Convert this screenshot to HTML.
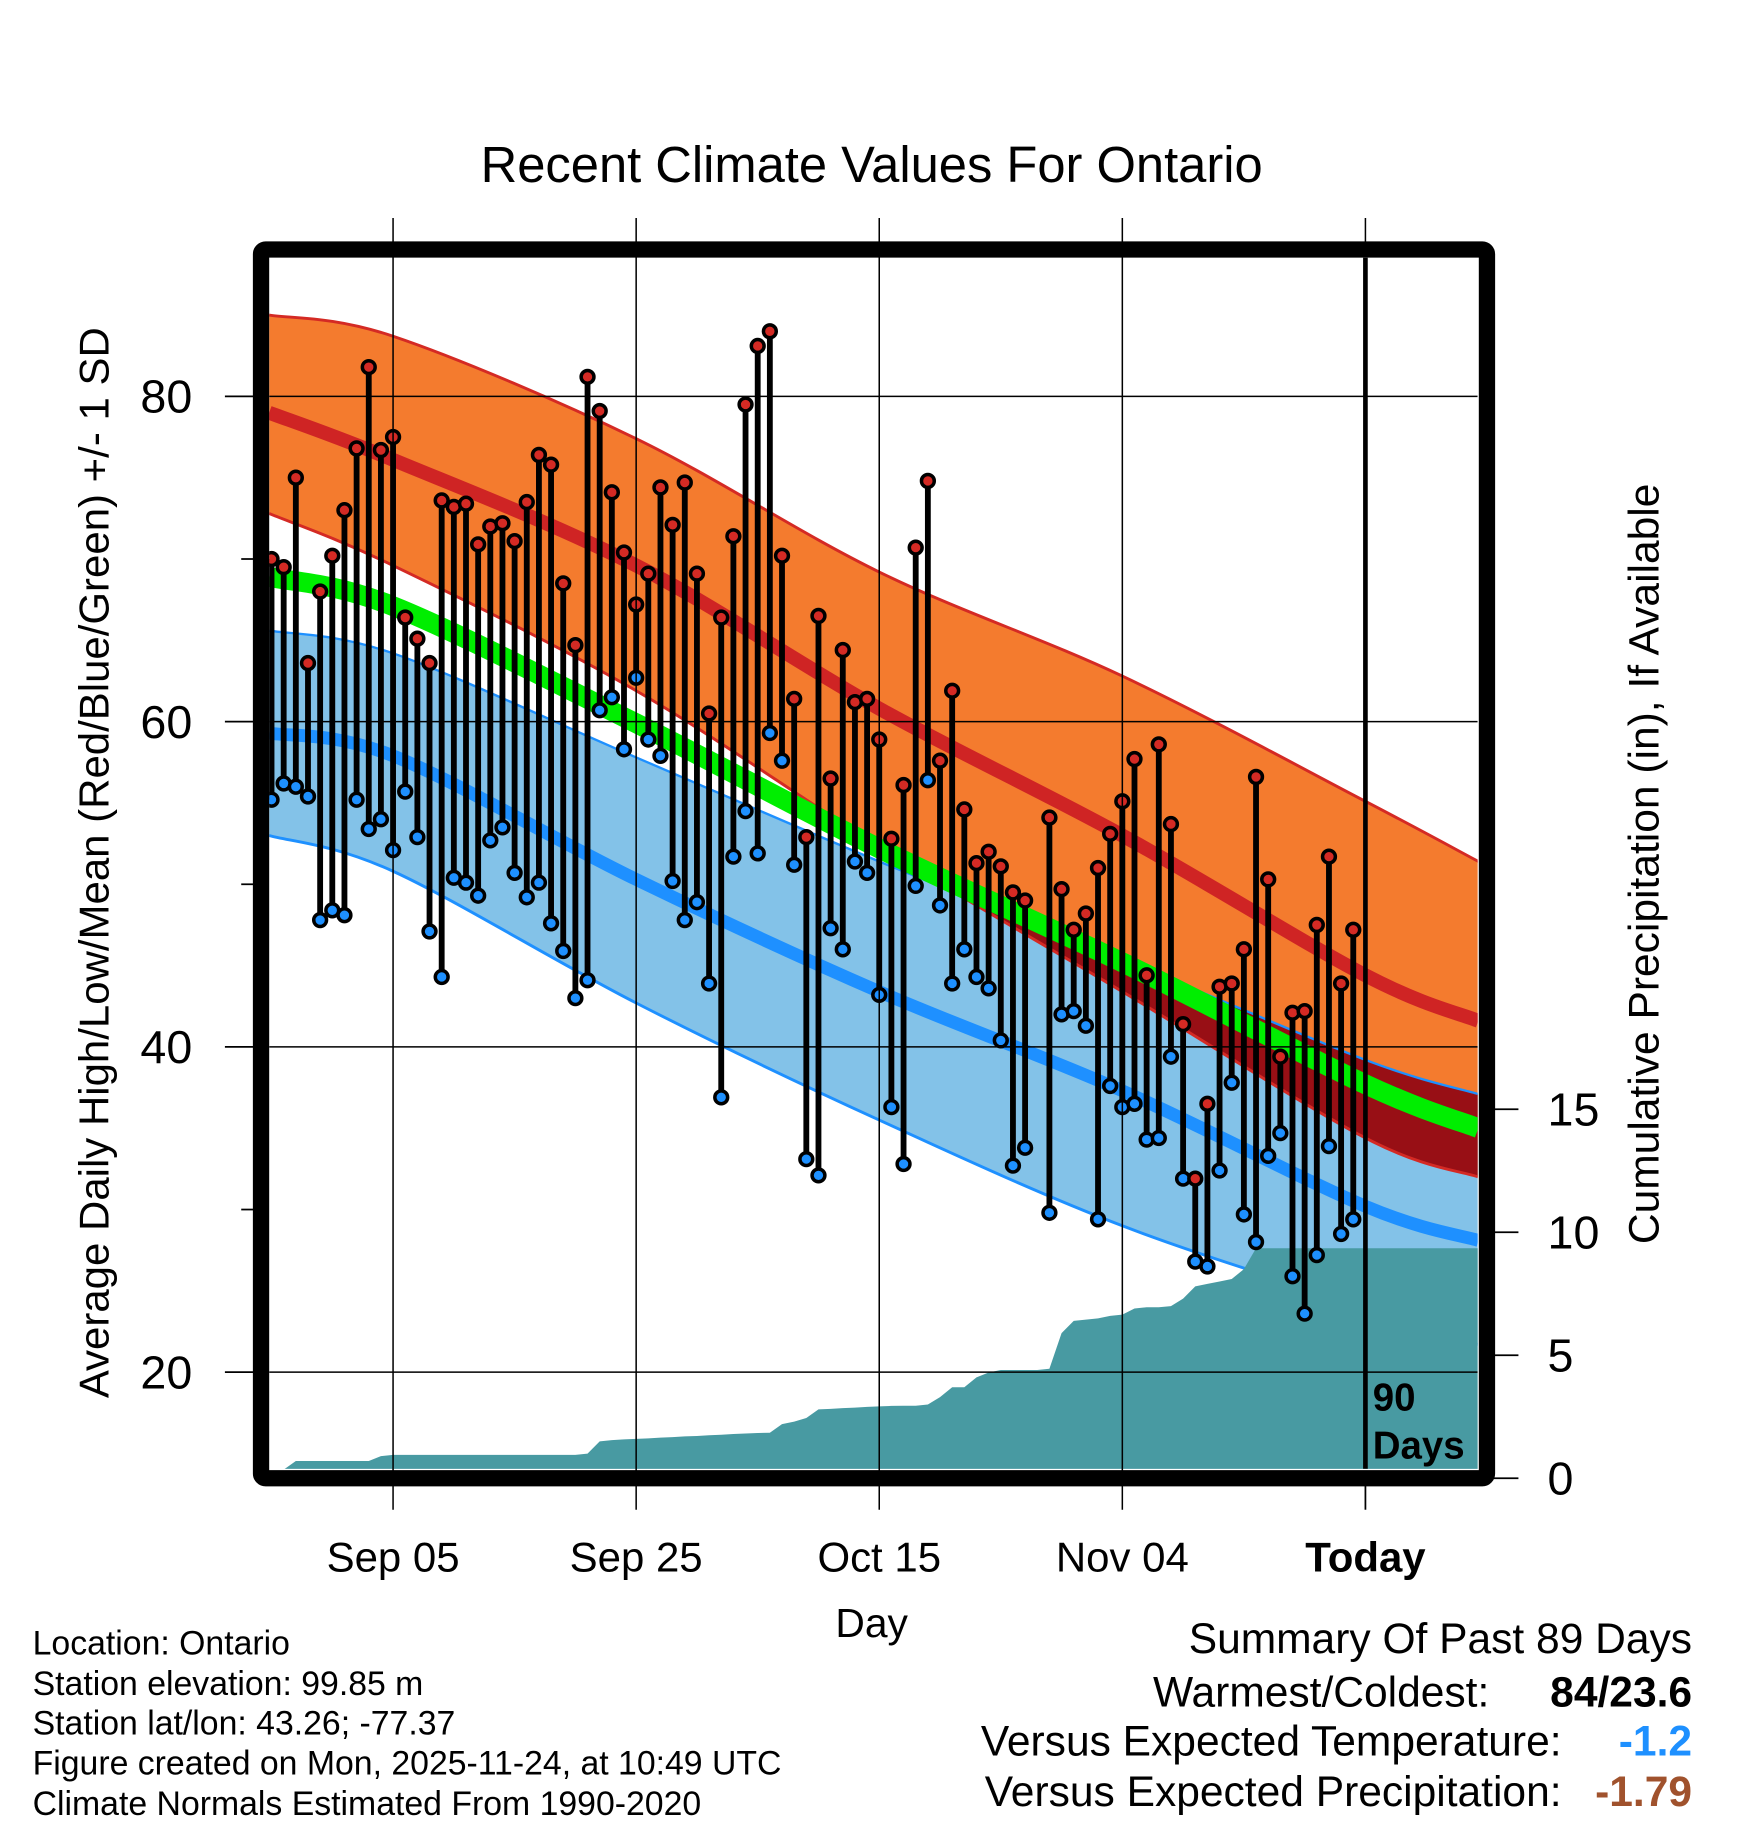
<!DOCTYPE html>
<html><head><meta charset="utf-8"><style>
html,body{margin:0;padding:0;background:#fff}
svg{display:block}
text{font-family:"Liberation Sans",Arial,sans-serif}
</style></head><body>
<svg id="chart" width="1748" height="1828" viewBox="0 0 1500 1568" preserveAspectRatio="none" xmlns="http://www.w3.org/2000/svg">
<defs>
<clipPath id="plotClip"><rect x="231" y="221" width="1037" height="1039"/></clipPath>
<clipPath id="lowClip"><path id="lowClipPath" d=""/></clipPath>
</defs>
<rect width="1500" height="1568" fill="#fff"/>
<text x="748" y="156" font-size="43.5" text-anchor="middle">Recent Climate Values For Ontario</text>
<g id="plot" clip-path="url(#plotClip)"></g>
<g id="over"></g>
<rect x="224" y="214" width="1052" height="1054" fill="none" stroke="#000" stroke-width="14" rx="4"/>
<text transform="translate(93,740) rotate(-90)" font-size="36" text-anchor="middle">Average Daily High/Low/Mean (Red/Blue/Green) +/- 1 SD</text>
<text transform="translate(1423,741) rotate(-90)" font-size="36.5" text-anchor="middle">Cumulative Precipitation (in), If Available</text>
<text x="748" y="1404" font-size="35" text-anchor="middle">Day</text>
<text x="1178" y="1210" font-size="33" font-weight="bold">90</text>
<text x="1178" y="1251" font-size="33" font-weight="bold">Days</text>
<g font-size="29">
<text x="28" y="1419">Location: Ontario</text>
<text x="28" y="1454">Station elevation: 99.85 m</text>
<text x="28" y="1488">Station lat/lon: 43.26; -77.37</text>
<text x="28" y="1522">Figure created on Mon, 2025-11-24, at 10:49 UTC</text>
<text x="28" y="1557">Climate Normals Estimated From 1990-2020</text>
</g>
<g font-size="36.5">
<text x="1452" y="1418" text-anchor="end">Summary Of Past 89 Days</text>
<text x="1278" y="1464" text-anchor="end">Warmest/Coldest:</text>
<text x="1452" y="1464" text-anchor="end" font-weight="bold">84/23.6</text>
<text x="1340" y="1506" text-anchor="end">Versus Expected Temperature:</text>
<text x="1452" y="1506" text-anchor="end" font-weight="bold" fill="#1e90ff">-1.2</text>
<text x="1340" y="1549" text-anchor="end">Versus Expected Precipitation:</text>
<text x="1452" y="1549" text-anchor="end" font-weight="bold" fill="#a0522d">-1.79</text>
</g>
</svg>
<script>
// ---- data ----
const xTickLabels = ["Sep 05","Sep 25","Oct 15","Nov 04","Today"];
const xTickDays = [10,30,50,70,90];
const yTickLabels = [20,40,60,80];
const yMinorTicks = [30,50,70];
const y2TickLabels = [0,5,10,15];
// normals keyed by day index (0 = Aug 26)
const normDays = [-0.2,10,30,50,70,90,99.3];
const hiUpper = [85.0,83.7,77.4,69.2,62.8,55.1,51.4];
const hiMean  = [79.0,76.1,69.6,60.8,53.0,44.4,41.6];
const hiLower = [72.8,69.6,61.9,52.3,43.4,34.4,32.0];
const avgMean = [68.9,67.1,59.9,52.2,45.2,37.7,35.0];
const loUpper = [65.6,64.2,57.8,51.4,45.4,39.2,37.1];
const loMean  = [59.3,57.9,50.3,43.4,37.3,30.2,28.1];
const loLower = [53.0,50.8,42.7,35.5,29.0,24.0,21.7];
// daily observations (index 0 = Aug 26), null = missing
const highs = [70.0,69.5,75.0,63.6,68.0,70.2,73.0,76.8,81.8,76.7,77.5,66.4,65.1,63.6,73.6,73.2,73.4,70.9,72.0,72.2,71.1,73.5,76.4,75.8,68.5,64.7,81.2,79.1,74.1,70.4,67.2,69.1,74.4,72.1,74.7,69.1,60.5,66.4,71.4,79.5,83.1,84.0,70.2,61.4,52.9,66.5,56.5,64.4,61.2,61.4,58.9,52.8,56.1,70.7,74.8,57.6,61.9,54.6,51.3,52.0,51.1,49.5,49.0,null,54.1,49.7,47.2,48.2,51.0,53.1,55.1,57.7,44.4,58.6,53.7,41.4,31.9,36.5,43.7,43.9,46.0,56.6,50.3,39.4,42.1,42.2,47.5,51.7,43.9,47.2];
const lows = [55.2,56.2,56.0,55.4,47.8,48.4,48.1,55.2,53.4,54.0,52.1,55.7,52.9,47.1,44.3,50.4,50.1,49.3,52.7,53.5,50.7,49.2,50.1,47.6,45.9,43.0,44.1,60.7,61.5,58.3,62.7,58.9,57.9,50.2,47.8,48.9,43.9,36.9,51.7,54.5,51.9,59.3,57.6,51.2,33.1,32.1,47.3,46.0,51.4,50.7,43.2,36.3,32.8,49.9,56.4,48.7,43.9,46.0,44.3,43.6,40.4,32.7,33.8,null,29.8,42.0,42.2,41.3,29.4,37.6,36.3,36.5,34.3,34.4,39.4,31.9,26.8,26.5,32.4,37.8,29.7,28.0,33.3,34.7,25.9,23.6,27.2,33.9,28.5,29.4];
const precip = [0.3,0.35,0.7,0.7,0.7,0.7,0.7,0.7,0.7,0.9,0.95,0.95,0.95,0.95,0.95,0.95,0.95,0.95,0.95,0.95,0.95,0.95,0.95,0.95,0.95,0.95,1.0,1.5,1.55,1.58,1.6,1.62,1.65,1.67,1.7,1.72,1.75,1.77,1.8,1.82,1.84,1.85,2.2,2.3,2.45,2.8,2.82,2.85,2.87,2.9,2.92,2.94,2.95,2.95,3.0,3.3,3.7,3.7,4.1,4.3,4.4,4.4,4.4,4.4,4.45,5.9,6.4,6.45,6.5,6.6,6.65,6.9,6.95,6.95,7.0,7.3,7.8,7.9,8.0,8.1,8.5,9.35,9.35,9.35,9.35,9.35,9.35,9.35,9.35,9.35];

// ---- axes ----
const NS="http://www.w3.org/2000/svg";
function X(i){return 233+i*10.43;}
function Y(t){return 340+(80-t)*13.95;}
function PY(p){return 1268-p*21.1;}
function mk(tag,attrs,parent){const e=document.createElementNS(NS,tag);for(const k in attrs)e.setAttribute(k,attrs[k]);parent.appendChild(e);return e;}
const plot=document.getElementById('plot');
const over=document.getElementById('over');

function segs(pts){
  let d='';
  for(let k=0;k<pts.length-1;k++){
    const p0=pts[Math.max(0,k-1)],p1=pts[k],p2=pts[k+1],p3=pts[Math.min(pts.length-1,k+2)];
    const c1=[p1[0]+(p2[0]-p0[0])/6,p1[1]+(p2[1]-p0[1])/6];
    const c2=[p2[0]-(p3[0]-p1[0])/6,p2[1]-(p3[1]-p1[1])/6];
    d+=' C'+c1[0]+','+c1[1]+' '+c2[0]+','+c2[1]+' '+p2[0]+','+p2[1];
  }
  return d;
}
function smooth(vals){
  const pts=normDays.map((d,k)=>[X(d),Y(vals[k])]);
  return 'M'+pts[0][0]+','+pts[0][1]+segs(pts);
}
function reverseSmooth(vals){
  const pts=normDays.map((d,k)=>[X(d),Y(vals[k])]).reverse();
  return segs(pts);
}
function band(up,lo){
  const last=normDays.length-1;
  return smooth(up)+' L'+X(normDays[last])+','+Y(lo[last])+reverseSmooth(lo)+' Z';
}
const lowBand=band(loUpper,loLower);
const highBand=band(hiUpper,hiLower);
document.getElementById('lowClipPath').setAttribute('d',lowBand);

let e;
e=mk('path',{d:lowBand,fill:'#83c2e8'},plot);


e=mk('path',{d:highBand,fill:'#f47b2e'},plot);


e=mk('path',{d:highBand,fill:'#980f15','clip-path':'url(#lowClip)'},plot);



// band edges
[[hiUpper,'#d42a24',2.5,'high-upper-line'],[hiLower,'#d42a24',2.5,'high-lower-line'],[loUpper,'#1e90ff',2,'low-upper-line'],[loLower,'#1e90ff',2.5,'low-lower-line']].forEach(a=>{
  const l=mk('path',{d:smooth(a[0]),fill:'none',stroke:a[1],'stroke-width':a[2]},plot);
  
  
});
e=mk('path',{d:smooth(loMean),fill:'none',stroke:'#1e90ff','stroke-width':11},plot);


e=mk('path',{d:smooth(hiMean),fill:'none',stroke:'#cf2424','stroke-width':12},plot);


e=mk('path',{d:smooth(avgMean),fill:'none',stroke:'#00ee00','stroke-width':17},plot);



// precipitation area (on top of band lines)
let pd='M'+X(0)+','+PY(0);
precip.forEach((p,i)=>{pd+=' L'+X(i)+','+PY(p);});
pd+=' L1270,'+PY(precip[precip.length-1])+' L1270,'+PY(0)+' Z';
e=mk('path',{d:pd,fill:'#489aa2'},plot);



// grid
yTickLabels.forEach(t=>{
  const g=mk('line',{x1:231,x2:1268,y1:Y(t),y2:Y(t),stroke:'#000','stroke-width':1.3},plot);
  
  
  const tk=mk('line',{x1:193,x2:220,y1:Y(t),y2:Y(t),stroke:'#000','stroke-width':1.5},over);
  
  
  const tx=mk('text',{x:165,y:Y(t)+14,'font-size':40,'text-anchor':'end'},over);
  tx.textContent=t;
  
  
});
yMinorTicks.forEach(t=>{
  const tk=mk('line',{x1:207,x2:220,y1:Y(t),y2:Y(t),stroke:'#000','stroke-width':1.5},over);
  
  
});
xTickDays.forEach((d,k)=>{
  const isToday=k===xTickDays.length-1;
  const g=mk('line',{x1:X(d),x2:X(d),y1:isToday?221:187,y2:isToday?1260:1295,stroke:'#000','stroke-width':isToday?4:1.3},isToday?plot:over);
  
  
  if(isToday){
    const t2=mk('line',{x1:X(d),x2:X(d),y1:187,y2:210,stroke:'#000','stroke-width':1.3},over);
    
    
    const t3=mk('line',{x1:X(d),x2:X(d),y1:1272,y2:1295,stroke:'#000','stroke-width':1.5},over);
    
    
  }
  const tx=mk('text',{x:X(d),y:1348,'font-size':36,'text-anchor':'middle','font-weight':isToday?'bold':'normal'},over);
  tx.textContent=xTickLabels[k];
  
  
});
y2TickLabels.forEach(p=>{
  const tk=mk('line',{x1:1280,x2:1303,y1:PY(p),y2:PY(p),stroke:'#000','stroke-width':1.5},over);
  
  
  const tx=mk('text',{x:1328,y:PY(p)+14,'font-size':40},over);
  tx.textContent=p;
  
  
});

// observations
highs.forEach((h,i)=>{
  const l=lows[i];
  if(h===null||l===null)return;
  const s=mk('line',{x1:X(i),x2:X(i),y1:Y(h),y2:Y(l),stroke:'#000','stroke-width':5},plot);
  
  
});
highs.forEach((h,i)=>{
  const l=lows[i];
  if(h===null||l===null)return;
  const c1=mk('circle',{cx:X(i),cy:Y(h),r:5.5,fill:'#d42a24',stroke:'#000','stroke-width':3},plot);
  
  
  const c2=mk('circle',{cx:X(i),cy:Y(l),r:5.5,fill:'#1e90ff',stroke:'#000','stroke-width':3},plot);
  
  
});
</script>
</body></html>
